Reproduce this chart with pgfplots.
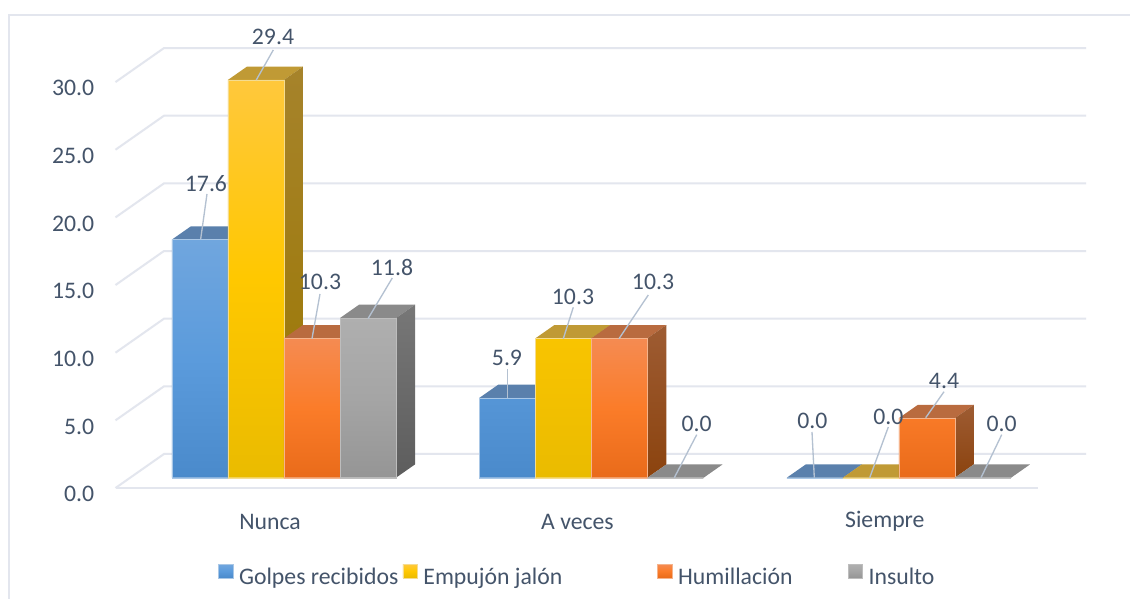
\documentclass[border=0pt]{standalone}
\usepackage{pgfplots}
\usepackage{fontspec}
\setmainfont{Carlito}
\pgfplotsset{compat=1.18}
\definecolor{txt}{HTML}{44546A}
\definecolor{gridc}{HTML}{E3E6EE}
\definecolor{leader}{HTML}{B4C1D1}
\definecolor{bT}{HTML}{5A80AC}\definecolor{bS}{HTML}{4A74A4}\definecolor{bB}{HTML}{3F6A9A}
\definecolor{bF}{HTML}{70A6DE}\definecolor{bM}{HTML}{5B9BDC}\definecolor{bL}{HTML}{4A8ACB}\definecolor{bE}{HTML}{A9C7E6}
\definecolor{yT}{HTML}{C09A35}\definecolor{yS}{HTML}{A6832B}\definecolor{yB}{HTML}{9B7700}
\definecolor{yF}{HTML}{FFC83C}\definecolor{yM}{HTML}{FFC800}\definecolor{yL}{HTML}{EABB00}\definecolor{yE}{HTML}{F5DC90}
\definecolor{oT}{HTML}{B96B3F}\definecolor{oS}{HTML}{9E5C33}\definecolor{oB}{HTML}{8B430E}
\definecolor{oF}{HTML}{F58B52}\definecolor{oM}{HTML}{FB7C29}\definecolor{oL}{HTML}{E96B1A}\definecolor{oE}{HTML}{F5B48C}
\definecolor{gT}{HTML}{8A8A8A}\definecolor{gS}{HTML}{777777}\definecolor{gB}{HTML}{5D5D5D}
\definecolor{gF}{HTML}{AFAFAF}\definecolor{gM}{HTML}{A5A5A5}\definecolor{gL}{HTML}{959595}\definecolor{gE}{HTML}{BDBDBD}
\newcommand{\chartfont}{\fontsize{17.8}{20}\selectfont}
% one bar's top and side faces: group index, bar shift, value, top colour, side top, side bottom
\newcommand{\faces}[6]{%
  \pgfmathsetmacro{\xa}{#1+#2-0.0911}%
  \pgfmathsetmacro{\xb}{#1+#2+0.0911}%
  \pgfmathsetmacro{\xc}{\xa+0.0618}%
  \pgfmathsetmacro{\xd}{\xb+0.0618}%
  \pgfmathsetmacro{\yb}{#3+0.983}%
  \addplot[fill=#4,draw=none,forget plot] coordinates {(\xa,#3) (\xb,#3) (\xd,\yb) (\xc,\yb)} --cycle;
  \addplot[top color=#5,bottom color=#6,draw=none,forget plot] coordinates {(\xb,0) (\xb,#3) (\xd,\yb) (\xd,0.983)} --cycle;
}
\newcommand{\lab}[7]{%
  \draw[leader,line width=1pt] (axis cs:{(#4-284)/307.4},{(477.7-#5)/13.53}) -- (axis cs:{(#6-284)/307.4},{(477.7-#7)/13.53});
  \node[text=txt,font=\chartfont,inner sep=0pt,yshift=-1pt] at (axis cs:{(#1-284)/307.4},{(477.7-#2)/13.53}) {#3};
}
\pgfplotsset{
  swatch/.style={legend image code/.code={\path[##1] (0pt,-0.4pt) rectangle (10.8pt,9.8pt);}},
}
\begin{document}
\begin{tikzpicture}
\useasboundingbox (0pt,0pt) rectangle (847.5pt,449.25pt);
\fill[white] (0pt,0pt) rectangle (847.5pt,449.25pt);
\draw[gridc,line width=1.5pt] (6.9pt,0pt) -- (6.9pt,437.8pt) -- (847.5pt,437.8pt);
\begin{axis}[
  at={(86.625pt,90.975pt)},
  anchor=south west,
  scale only axis,
  width=691.875pt,
  height=322.3pt,
  xmin=-0.5481,xmax=2.4528,
  ymin=0,ymax=31.76,
  clip=false,
  axis line style={draw=none},
  tick style={draw=none},
  xtick={0,1,2},
  xticklabels={Nunca,A veces,Siempre},
  ytick={0,5,10,15,20,25,30},
  /pgf/number format/assume math mode=true,
  yticklabel={\pgfmathprintnumber[fixed,fixed zerofill,precision=1]{\tick}},
  ticklabel style={font=\chartfont,text=txt},
  yticklabel style={anchor=east,xshift=-12.5pt,yshift=-12.3pt},
  xticklabel style={anchor=center,xshift=-10.5pt,yshift=-33pt},
  legend columns=4,
  legend cell align=left,
  legend style={at={(axis cs:-0.2145,-7.22)},anchor=west,draw=none,fill=none,inner sep=0pt,
    font=\chartfont,text=txt,
    nodes={inner sep=0pt,text=txt},
    /tikz/every odd column/.append style={column sep=4.5pt}},
]
% walls and floor
\addplot[gridc,line width=1.5pt,forget plot] coordinates {(-0.5481,-0.761) (-0.3904,1.752) (2.609,1.752)};
\addplot[gridc,line width=1.5pt,forget plot] coordinates {(-0.5481,-0.761) (2.4528,-0.761)};
\addplot[gridc,line width=1.5pt,forget plot] coordinates {(-0.5481,4.239) (-0.3904,6.752) (2.609,6.752)};
\addplot[gridc,line width=1.5pt,forget plot] coordinates {(-0.5481,9.239) (-0.3904,11.752) (2.609,11.752)};
\addplot[gridc,line width=1.5pt,forget plot] coordinates {(-0.5481,14.239) (-0.3904,16.752) (2.609,16.752)};
\addplot[gridc,line width=1.5pt,forget plot] coordinates {(-0.5481,19.239) (-0.3904,21.752) (2.609,21.752)};
\addplot[gridc,line width=1.5pt,forget plot] coordinates {(-0.5481,24.239) (-0.3904,26.752) (2.609,26.752)};
\addplot[gridc,line width=1.5pt,forget plot] coordinates {(-0.5481,29.239) (-0.3904,31.752) (2.609,31.752)};
% Golpes recibidos
\faces{0}{-0.2733}{17.6}{bT}{bS}{bB}
\faces{1}{-0.2733}{5.9}{bT}{bS}{bB}
\faces{2}{-0.2733}{0}{bT}{bS}{bB}
\addplot[ybar,bar width=0.1822,bar shift=-0.2733,top color=bF,bottom color=bL,middle color=bM,draw=bE,line width=0.25pt,swatch] coordinates {(0,17.6) (1,5.9) (2,0)};
\addlegendentry{\makebox[122.75pt][l]{Golpes recibidos}}
% Empujon jalon
\faces{0}{-0.0911}{29.4}{yT}{yS}{yB}
\faces{1}{-0.0911}{10.3}{yT}{yS}{yB}
\faces{2}{-0.0911}{0}{yT}{yS}{yB}
\addplot[ybar,bar width=0.1822,bar shift=-0.0911,top color=yF,bottom color=yL,middle color=yM,draw=yE,line width=0.25pt,swatch] coordinates {(0,29.4) (1,10.3) (2,0)};
\addlegendentry{\makebox[175.5pt][l]{Empujón jalón}}
% Humillacion
\faces{0}{0.0911}{10.3}{oT}{oS}{oB}
\faces{1}{0.0911}{10.3}{oT}{oS}{oB}
\faces{2}{0.0911}{4.4}{oT}{oS}{oB}
\addplot[ybar,bar width=0.1822,bar shift=0.0911,top color=oF,bottom color=oL,middle color=oM,draw=oE,line width=0.25pt,swatch] coordinates {(0,10.3) (1,10.3) (2,4.4)};
\addlegendentry{\makebox[127.25pt][l]{Humillación}}
% Insulto
\faces{0}{0.2733}{11.8}{gT}{gS}{gB}
\faces{1}{0.2733}{0}{gT}{gS}{gB}
\faces{2}{0.2733}{0}{gT}{gS}{gB}
\addplot[ybar,bar width=0.1822,bar shift=0.2733,top color=gF,bottom color=gL,middle color=gM,draw=gE,line width=0.25pt,swatch] coordinates {(0,11.8) (1,0) (2,0)};
\addlegendentry{Insulto}
% data labels with leader lines
\lab{273}{36}{29.4}{273.3}{50}{256.3}{80}
\lab{206}{182}{17.6}{207}{194}{200.7}{239}
\lab{320}{281}{10.3}{320}{294}{312}{338.7}
\lab{392}{266}{11.8}{392.3}{278}{368}{318.7}
\lab{507}{356.7}{5.9}{507.3}{369.3}{507.3}{398}
\lab{573}{296}{10.3}{573.3}{307.3}{563.3}{338.7}
\lab{653}{281}{10.3}{648.3}{295}{619}{338.7}
\lab{696.7}{422.3}{0.0}{696.7}{434.7}{674.3}{477.7}
\lab{812.3}{420}{0.0}{812}{432}{814.3}{477.7}
\lab{888.3}{415.7}{0.0}{888.3}{427}{869.7}{477.7}
\lab{944}{380}{4.4}{944}{391.7}{925.7}{417.7}
\lab{1001.7}{422.3}{0.0}{1001.7}{434.7}{981}{477.7}
\end{axis}
\end{tikzpicture}
\end{document}
